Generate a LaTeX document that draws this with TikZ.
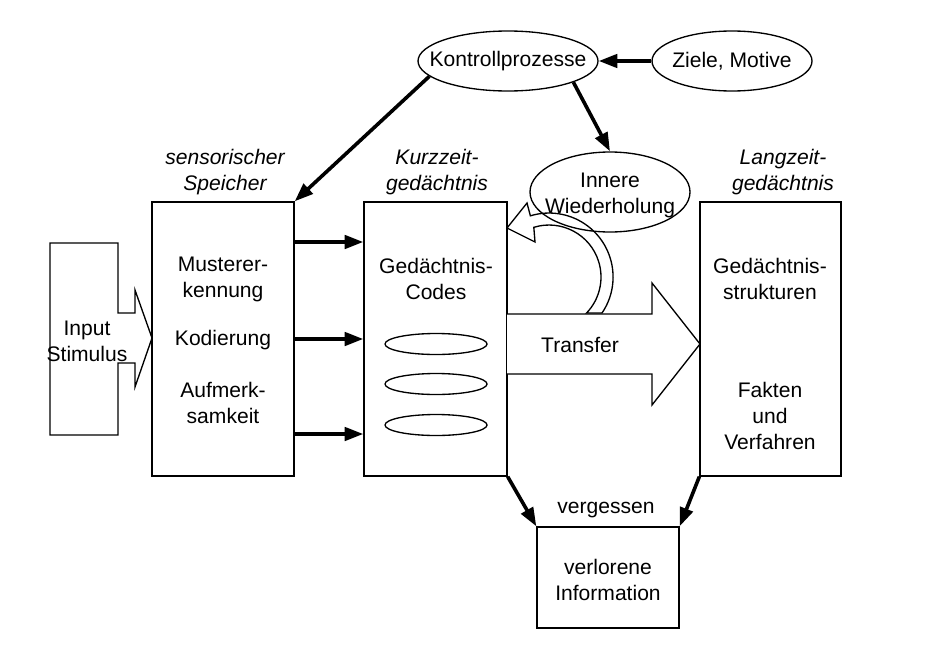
\documentclass[tikz,border=0pt]{standalone}
\usepackage{fontspec}
\setmainfont{Liberation Sans}
\usetikzlibrary{arrows.meta,shapes.geometric}
\begin{document}
\begin{tikzpicture}[x=0.75pt,y=-0.75pt,
  every node/.style={font=\fontsize{15.8pt}{19.5pt}\selectfont},
  txt/.style={align=center,inner sep=0pt},
  itxt/.style={align=center,inner sep=0pt,font=\fontsize{15.8pt}{19.5pt}\selectfont\itshape},
  box/.style={draw,line width=1pt,rectangle,inner sep=0pt},
  oval/.style={draw,line width=1pt,ellipse,inner sep=0pt},
  outl/.style={draw,line width=1pt,line join=miter},
  thick arrow/.style={line width=2.7pt,-{Triangle[length=14pt,width=10pt]}},
]
\useasboundingbox (0,0) rectangle (930,646);

% input stimulus arrow shape
\draw[outl] (50,243) -- (118,243) -- (118,313) -- (135,313) -- (135,290)
  -- (152,338) -- (135,387) -- (135,363) -- (118,363) -- (118,435)
  -- (50,435) -- cycle;
\node[txt] (inp) at (87,341) {Input\\Stimulus};

% boxes
\node[box,minimum width=106.5pt,minimum height=205.5pt] (sens) at (223,339) {};
\node[box,minimum width=107.25pt,minimum height=205.5pt] (stm) at (435.5,339) {};
\node[box,minimum width=105.75pt,minimum height=205.5pt] (ltm) at (770.5,339) {};
\node[box,minimum width=106.5pt,minimum height=75.75pt] (lost) at (608,577.5) {};

% headings
\node[itxt] (hsens) at (225,172.5) {sensorischer\\Speicher};
\node[itxt] (hstm) at (437,172.5) {Kurzzeit-\\gedächtnis};
\node[itxt] (hltm) at (783,172.5) {Langzeit-\\gedächtnis};

% box contents
\node[txt] (s1) at (223,279) {Musterer-\\kennung};
\node[txt] (s2) at (223,340) {Kodierung};
\node[txt] (s3) at (223,403) {Aufmerk-\\samkeit};
\node[txt] (k1) at (436,279) {Gedächtnis-\\Codes};
\node[oval,minimum width=76.5pt,minimum height=15.75pt] (e1) at (436,344) {};
\node[oval,minimum width=76.5pt,minimum height=15.75pt] (e2) at (436,384) {};
\node[oval,minimum width=76.5pt,minimum height=15.75pt] (e3) at (436,425) {};
\node[txt] (l1) at (770,279) {Gedächtnis-\\strukturen};
\node[txt] (l2) at (770,416) {Fakten\\und\\Verfahren};
\node[txt] (lo) at (608,580) {verlorene\\Information};
\node[txt] (verg) at (606,510) {vergessen};

% transfer arrow
\draw[outl,fill=white] (507,314) -- (652,314) -- (652,283) -- (700,344)
  -- (652,405) -- (652,374) -- (507,374);
\node[txt] (tr) at (580,345) {Transfer};

% hollow curved arrow (innere Wiederholung)
\draw[outl,fill=white] (602,313) arc[start angle=34.2,end angle=-107,radius=64]
  -- (527,203) -- (507,228) -- (535,242) -- (533.8,227.3)
  arc[start angle=-107,end angle=43.8,radius=52] -- cycle;

% ellipses on top
\node[oval,minimum width=135pt,minimum height=45pt,
  label={[txt]center:Kontrollprozesse}] (kp) at (508,61) {};
\node[oval,minimum width=120pt,minimum height=45pt,
  label={[txt]center:Ziele, Motive}] (zm) at (732,61) {};
\node[oval,minimum width=120pt,minimum height=60pt] (iw) at (610,192) {};
\node[txt] (iwt) at (610,195) {Innere\\Wiederholung};

% connectors
\draw[thick arrow] (zm.west) -- (kp.east);
\draw[thick arrow] (kp.191) -- (sens.north east);
\draw[thick arrow] (kp.342) -- (iw.north);
\draw[thick arrow] ([yshift=72.75pt]sens.east) -- ([yshift=72.75pt]stm.west);
\draw[thick arrow] (sens.east) -- (stm.west);
\draw[thick arrow] ([yshift=-71.25pt]sens.east) -- ([yshift=-71.25pt]stm.west);
\draw[thick arrow] (stm.south east) -- (lost.north west);
\draw[thick arrow] (ltm.south west) -- (lost.north east);
\end{tikzpicture}
\end{document}
